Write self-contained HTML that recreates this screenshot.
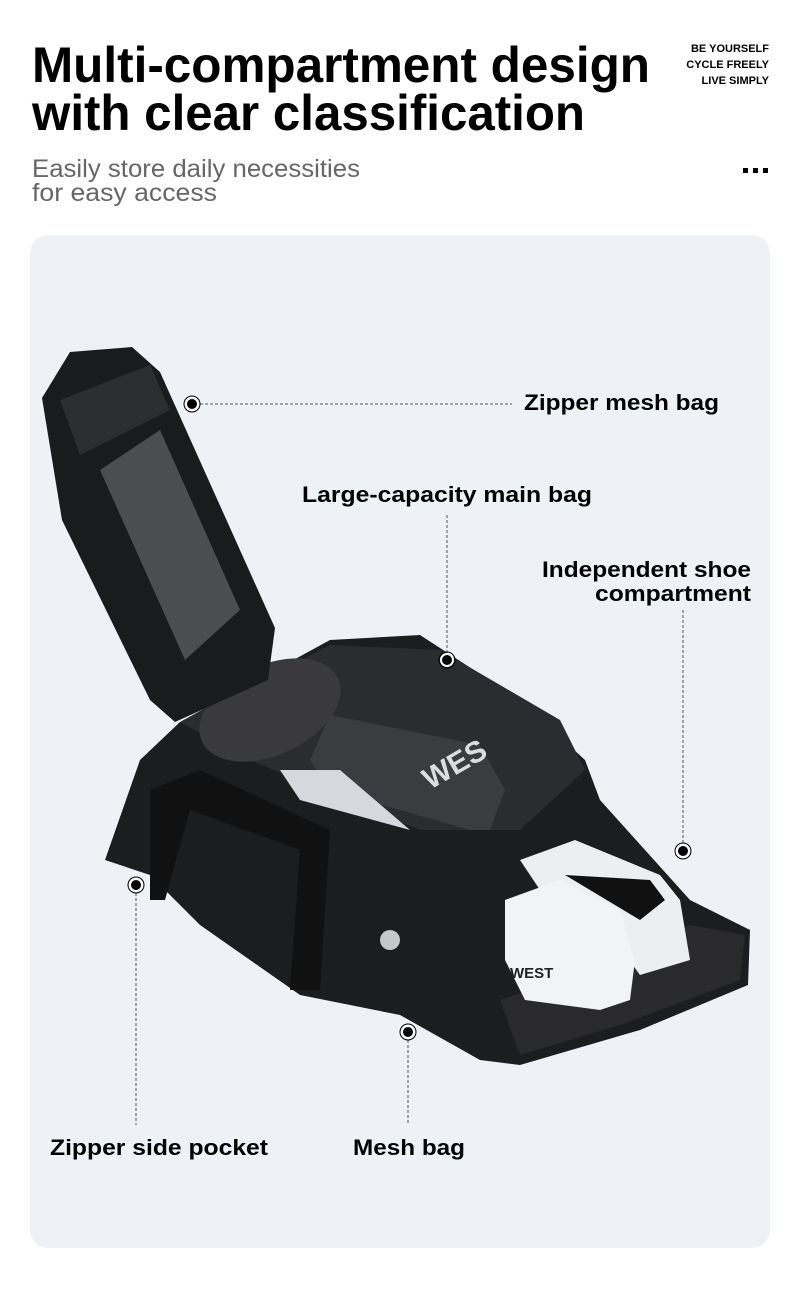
<!DOCTYPE html>
<html><head><meta charset="utf-8"><style>html,body{margin:0;padding:0;background:#fff}svg{display:block}</style></head>
<body>
<svg width="800" height="1294" viewBox="0 0 800 1294" xmlns="http://www.w3.org/2000/svg" font-family="Liberation Sans, sans-serif">
<rect width="800" height="1294" fill="#fff"/>
<text x="32" y="82" font-size="50" font-weight="bold" fill="#000" textLength="618" lengthAdjust="spacingAndGlyphs">Multi-compartment design</text>
<text x="32" y="130" font-size="50" font-weight="bold" fill="#000" textLength="553" lengthAdjust="spacingAndGlyphs">with clear classification</text>
<text x="32" y="177" font-size="25" fill="#666" textLength="328" lengthAdjust="spacingAndGlyphs">Easily store daily necessities</text>
<text x="32" y="201" font-size="25" fill="#666" textLength="185" lengthAdjust="spacingAndGlyphs">for easy access</text>
<g font-size="11" font-weight="bold" text-anchor="end" fill="#000">
<text x="769" y="52">BE YOURSELF</text><text x="769" y="68">CYCLE FREELY</text><text x="769" y="84">LIVE SIMPLY</text></g>
<rect x="743" y="168" width="5" height="5"/><rect x="753" y="168" width="5" height="5"/><rect x="763" y="168" width="5" height="5"/>
<rect x="30" y="235" width="740" height="1013" rx="18" fill="#eef1f5"/>
<!-- bag body -->
<path d="M105,860 L140,760 L180,722 L330,640 L420,635 L520,700 L585,760 L600,800 L690,900 L750,930 L748,985 L640,1030 L520,1065 L480,1060 L400,1015 L300,995 L200,925 L150,875 Z" fill="#1c1d1f"/>
<path d="M180,722 L330,645 L440,650 L560,720 L585,770 L520,830 L420,830 L250,760 Z" fill="#2b2c2f"/>
<path d="M500,1000 L530,990 L690,925 L745,935 L740,980 L620,1025 L520,1055 Z" fill="#2a2a2c"/>
<!-- bottle -->
<path d="M330,715 L480,745 L505,790 L490,830 L470,830 L330,790 L310,760 Z" fill="#3a3c40"/>
<text x="430" y="790" font-size="30" font-weight="bold" fill="#ddd" transform="rotate(-30 430 790)">WES</text>
<!-- eyewear case -->
<ellipse cx="270" cy="710" rx="75" ry="45" transform="rotate(-25 270 710)" fill="#3a3a3c"/>
<!-- white shirt -->
<path d="M280,770 L340,770 L410,830 L300,800 Z" fill="#d5d8dd"/>
<!-- handles -->
<path d="M150,790 L200,770 L330,830 L320,990 L290,990 L300,850 L190,810 L165,900 L150,900 Z" fill="#111"/>
<!-- shoes -->
<path d="M520,860 L575,840 L660,875 L680,900 L690,960 L640,975 L600,920 L540,890 Z" fill="#eceef0"/>
<path d="M505,900 L560,880 L620,910 L635,960 L630,1000 L600,1010 L525,1000 L505,960 Z" fill="#f2f3f5"/>
<path d="M565,875 L650,880 L665,900 L640,920 Z" fill="#111"/>
<text x="510" y="978" font-size="15" font-weight="bold" fill="#222">WEST</text>
<!-- lid -->
<path d="M42,398 L70,352 L132,347 L160,372 L275,628 L268,680 L175,722 L150,700 L62,520 Z" fill="#1a1b1d"/>
<path d="M100,470 L160,430 L240,610 L185,660 Z" fill="#4b4d51"/>
<path d="M60,400 L150,365 L170,410 L80,455 Z" fill="#2c2d30"/>
<!-- silver valve -->
<circle cx="390" cy="940" r="10" fill="#c5c7ca"/>
<!-- connectors -->
<g stroke="#555" stroke-width="1" stroke-dasharray="3,2" fill="none">
<line x1="200" y1="404" x2="512" y2="404"/>
<line x1="447" y1="515" x2="447" y2="652"/>
<line x1="683" y1="610" x2="683" y2="843"/>
<line x1="136" y1="893" x2="136" y2="1125"/>
<line x1="408" y1="1040" x2="408" y2="1125"/>
</g>
<g fill="#000" stroke="#fff" stroke-width="2">
<circle cx="192" cy="404" r="6"/><circle cx="447" cy="660" r="6"/><circle cx="683" cy="851" r="6"/><circle cx="136" cy="885" r="6"/><circle cx="408" cy="1032" r="6"/></g>
<g fill="none" stroke="#000" stroke-width="1">
<circle cx="192" cy="404" r="8"/><circle cx="447" cy="660" r="8"/><circle cx="683" cy="851" r="8"/><circle cx="136" cy="885" r="8"/><circle cx="408" cy="1032" r="8"/></g>
<g font-size="22" font-weight="bold" fill="#000">
<text x="524" y="410" textLength="195" lengthAdjust="spacingAndGlyphs">Zipper mesh bag</text>
<text x="302" y="502" textLength="290" lengthAdjust="spacingAndGlyphs">Large-capacity main bag</text>
<text x="542" y="577" textLength="209" lengthAdjust="spacingAndGlyphs">Independent shoe</text>
<text x="595" y="601" textLength="156" lengthAdjust="spacingAndGlyphs">compartment</text>
<text x="50" y="1155" textLength="218" lengthAdjust="spacingAndGlyphs">Zipper side pocket</text>
<text x="353" y="1155" textLength="112" lengthAdjust="spacingAndGlyphs">Mesh bag</text>
</g>
</svg>
</body></html>
